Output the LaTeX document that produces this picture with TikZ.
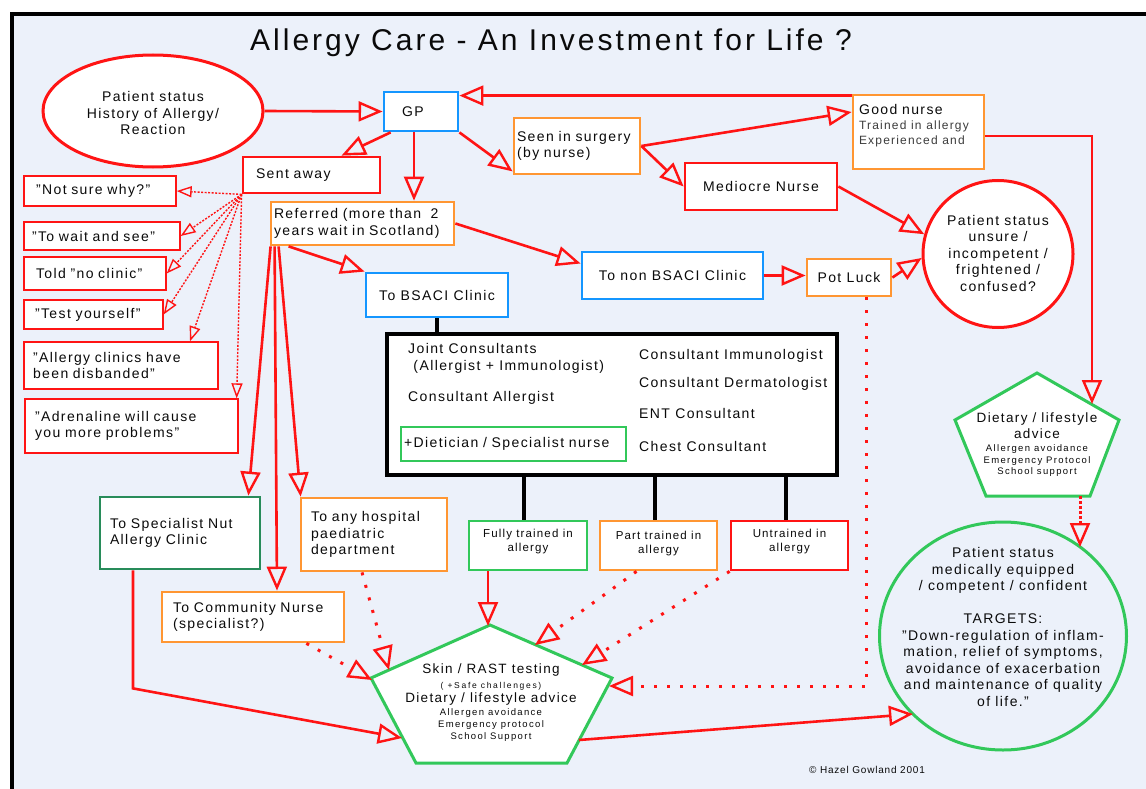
\documentclass[tikz,border=0pt]{standalone}
\usepackage{fontspec}
\setmainfont{Liberation Sans}[LetterSpace=10]
\usetikzlibrary{arrows.meta,shapes.geometric}
\definecolor{cred}{RGB}{255,20,20}
\definecolor{cblue}{RGB}{20,150,255}
\definecolor{corange}{RGB}{255,150,50}
\definecolor{cgreen}{RGB}{50,200,90}
\definecolor{cdkgreen}{RGB}{40,140,90}
\definecolor{cbg}{RGB}{236,241,250}
\definecolor{ctext}{RGB}{10,10,10}
\definecolor{cgrey}{RGB}{60,60,60}
\newcommand\fsz[2]{\fontsize{#1}{#2}\selectfont}
\newcommand\fsl[3]{\fontsize{#1}{#2}\selectfont\addfontfeature{LetterSpace=#3}}
\begin{document}
\begin{tikzpicture}[x=1pt,y=-1pt, every node/.style={text=ctext, font=\fsz{14}{16.5}}]
\tikzset{
  bx/.style={draw, fill=white, line width=2.8pt, inner sep=0pt},
  lbox/.style n args={3}{bx, minimum width=#1pt, minimum height=#2pt, text width=#3pt, align=left},
  cbox/.style n args={2}{bx, minimum width=#1pt, minimum height=#2pt, align=center},
  qbox/.style n args={3}{draw=cred, fill=white, line width=1.3pt, inner sep=0pt, minimum width=#1pt, minimum height=#2pt, text width=#3pt, align=left},
  arr/.style={draw=cred, line width=2.6pt, -{Triangle[open,length=24pt,width=20pt,line width=2.4pt]}},
  dots/.style={draw=cred, line width=3pt, dash pattern=on 3pt off 10pt, -{Triangle[open,length=24pt,width=20pt,line width=2.4pt]}},
  ddots/.style={draw=cred, line width=3pt, dash pattern=on 3pt off 2pt, -{Triangle[open,length=24pt,width=20pt,line width=2.4pt]}},
  sdots/.style={draw=cred, line width=1.4pt, dash pattern=on 2pt off 1.5pt, -{Triangle[open,length=15pt,width=11pt,line width=1.4pt]}},
  bl/.style={draw=black, line width=4pt},
  pent/.style={draw=cgreen, fill=white, line width=3pt},
  ell/.style={ellipse, line width=3pt, inner sep=0pt}
}
\useasboundingbox (0,0) rectangle (1146,789);
\fill[white] (0,0) rectangle (1146,789);
\begin{scope}
\clip (0,0) rectangle (1146,789);
\draw[line width=4pt, fill=cbg] (11.5,14.5) rectangle (1170,810);
\end{scope}

% title
\node[font={\fsl{30}{33}{10}}] (title) at (551,43) {Allergy Care - An Investment for Life ?};

% ellipses
\node[ell, draw=cred, fill=white, minimum width=220pt, minimum height=112pt] (pat1) at (153,111) {};
\node[align=center] (pat1t) at (153,113) {Patient status\\History of Allergy/\\Reaction};
\node[ell, draw=cred, fill=white, minimum width=150pt, minimum height=147pt] (unsure) at (998,254) {};
\node[align=center] (unsuret) at (998,253) {Patient status\\unsure /\\incompetent /\\frightened /\\confused?};
\node[ell, draw=cgreen, minimum width=247pt, minimum height=228pt] (goal) at (1003,636) {};
\node[align=center] (goalt) at (1003,627) {Patient status\\medically equipped\\/ competent / confident\\[16.5pt]TARGETS:\\"Down-regulation of inflam-\\mation, relief of symptoms,\\avoidance of exacerbation\\and maintenance of quality\\of life."};

% top boxes
\node[lbox={74}{39}{38}, draw=cblue] (gp) at (421,111.5) {GP};
\node[lbox={137}{36}{111}, draw=cred] (sent) at (311.5,175) {Sent away};
\node[lbox={183}{43}{177}, draw=corange] (ref) at (362.5,223.5) {Referred~(more~than\ \ 2\\years~wait~in~Scotland)};
\node[lbox={126}{56}{120}, draw=corange] (seen) at (577,146) {Seen~in~surgery\\(by nurse)};
\node[cbox={152}{47}, draw=cred] (med) at (761,186.5) {Mediocre Nurse};
\node[lbox={131}{74}{119}, draw=corange, font=\fsz{14}{15}] (good) at (918.5,132) {Good nurse\\\fsz{12}{15}\color{cgrey}Trained~in~allergy\\\fsz{12}{15}\color{cgrey}Experienced and\\\mbox{}};
\node[cbox={181}{47}, draw=cblue] (nonb) at (672.5,275.5) {To non BSACI Clinic};
\node[cbox={84}{37}, draw=corange] (pot) at (849,277.5) {Pot Luck};
\node[cbox={142}{44}, draw=cblue] (bsaci) at (437,295) {To BSACI Clinic};

% quote boxes
\node[qbox={152}{30}{128}] (q1) at (100,191) {"Not~sure~why?"};
\node[qbox={156}{28}{140}] (q2) at (102,236) {"To~wait~and~see"};
\node[qbox={142}{33}{118}] (q3) at (95,273.5) {Told~"no~clinic"};
\node[qbox={139}{29}{117}] (q4) at (93.5,314.5) {"Test~yourself"};
\node[qbox={194}{47}{176}] (q5) at (121,365.5) {"Allergy clinics have\\been disbanded"};
\node[qbox={213}{54}{193}] (q6) at (131.5,426) {"Adrenaline will cause\\you more problems"};

% consultants box
\node[bx, draw=black, line width=3.6pt, minimum width=450pt, minimum height=141pt] (big) at (612,404.5) {};
\node[anchor=west, inner sep=0pt, align=left] (bt1) at (408,358.5) {Joint Consultants\\\ (Allergist + Immunologist)};
\node[anchor=west, inner sep=0pt] (bt2) at (408,398) {Consultant Allergist};
\node[lbox={225}{34}{219}, draw=cgreen, line width=1.5pt] (dietn) at (513.5,444) {+Dietician~/~Specialist~nurse};
\node[anchor=west, inner sep=0pt] (bt3) at (639,356) {Consultant Immunologist};
\node[anchor=west, inner sep=0pt] (bt4) at (639,384) {Consultant Dermatologist};
\node[anchor=west, inner sep=0pt] (bt5) at (639,413) {ENT Consultant};
\node[anchor=west, inner sep=0pt] (bt6) at (639,446) {Chest Consultant};

% training boxes
\node[cbox={118}{49}, draw=cgreen, font=\fsz{11.5}{14}] (fully) at (528,545.5) {Fully trained in\\allergy\\[-4pt]\mbox{}};
\node[cbox={117}{49}, draw=corange, font=\fsz{11.5}{14}] (part) at (658.5,545.5) {Part trained in\\allergy\\[-7pt]\mbox{}};
\node[cbox={117}{49}, draw=cred, font=\fsz{11.5}{14}] (untr) at (789.5,545.5) {Untrained in\\allergy\\[-4pt]\mbox{}};

% lower boxes
\node[lbox={160}{72}{140}, draw=cdkgreen] (nut) at (180,533) {To Specialist Nut\\Allergy Clinic};
\node[lbox={146}{73}{126}, draw=corange] (hosp) at (374,534.5) {To any hospital\\paediatric\\department};
\node[lbox={182}{50}{160}, draw=corange] (comm) at (253,617) {To~Community~Nurse\\(specialist?)};

% pentagons
\draw[pent] (490,625) -- (612,678) -- (567,763) -- (416,763) -- (371,678) -- cycle;
\node[align=center, font={\fsz{13.5}{12}\lineskiplimit=-50pt}] (skin) at (491,703) {\fsl{13.5}{12}{10}Skin / RAST testing\\[2.5pt]\fsl{8.5}{12}{20}( +Safe challenges)\\[2pt]\fsl{13.5}{12}{10}Dietary / lifestyle advice\\[1.5pt]\fsl{9.5}{12}{14}Allergen avoidance\\\fsl{9.5}{12}{14}Emergency protocol\\\fsl{9.5}{12}{14}School Support};
\draw[pent] (1037,373) -- (1119,420) -- (1090,496) -- (986,496) -- (955,420) -- cycle;
\node[align=center, font={\fsz{13.5}{11}\lineskiplimit=-50pt}] (diet) at (1037,445) {\fsl{13.5}{11}{10}Dietary / lifestyle\\[5pt]\fsl{13.5}{11}{10}advice\\[2pt]\fsl{9.5}{11}{14}Allergen avoidance\\[1pt]\fsl{9.5}{11}{14}Emergency Protocol\\\fsl{9.5}{11}{14}School support};

\coordinate (skinTop) at (488,626);
\coordinate (skinP) at (535,645);
\coordinate (skinU) at (582,665);
\coordinate (skinR) at (609,686);
\coordinate (skinH) at (389,670);
\coordinate (skinC) at (372,680);
\coordinate (skinN) at (402,738);
\coordinate (skinOut) at (579,740);
\coordinate (goalIn) at (913,714);
\coordinate (dietIn) at (1092,404);
\coordinate (dietOut) at (1080,496);
\coordinate (goalTop) at (1080,547);

% copyright
\node[font={\fsl{10}{12}{8}}] (copy) at (867,770) {© Hazel Gowland 2001};

% black connectors
\draw[bl] (bsaci.south) -- (bsaci.south |- big.north);
\draw[bl] ([xshift=-4pt]fully.north |- big.south) -- ([xshift=-4pt]fully.north);
\draw[bl] ([xshift=-4pt]part.north |- big.south) -- ([xshift=-4pt]part.north);
\draw[bl] ([xshift=-4pt]untr.north |- big.south) -- ([xshift=-4pt]untr.north);

% red connectors
\draw[arr] (pat1.east) -- (gp.west);
\draw[arr] ([xshift=8pt]gp.south west) -- ([xshift=30pt]sent.north);
\draw[arr] ([xshift=-7pt]gp.south) -- ([xshift=-7pt]gp.south |- ref.north);
\draw[arr] (gp.south east) -- ([yshift=4pt]seen.south west);
\draw[arr] (seen.east) -- ([yshift=20pt]good.west);
\draw[arr] (seen.east) -- (med.west);
\draw[arr] ([yshift=-2pt]good.north west) -- ([yshift=-5pt]gp.north east);
\draw[arr] ([yshift=-4pt]good.east) -| (dietIn);
\draw[arr] (med.east) -- (unsure.165);
\draw[arr] (ref.east) -- ([yshift=12pt]nonb.west);
\draw[arr] (nonb.east) -- (nonb.east -| pot.west);
\draw[arr] (pot.east) -- (unsure.183);
\draw[arr] ([xshift=19pt]ref.south west) -- (bsaci.north west);
\draw[arr] ([xshift=1pt]ref.south west) -- ([xshift=-13pt]nut.north east);
\draw[arr] ([xshift=5pt]ref.south west) -- ([xshift=24pt]comm.north);
\draw[arr] ([xshift=9pt]ref.south west) -- ([xshift=1pt]hosp.north west);
\draw[arr] (fully.south -| skinTop) -- (skinTop);
\draw[arr] ([xshift=-47pt]nut.south) -- ++(0,118) -- (skinN);
\draw[arr] (skinOut) -- (goalIn);

% dotted connectors
\draw[dots] ([xshift=-22pt]part.south) -- (skinP);
\draw[dots] (untr.south west) -- (skinU);
\draw[dots] ([xshift=17pt]pot.south) |- (skinR);
\draw[dots] ([xshift=-12pt]hosp.south) -- (skinH);
\draw[dots] ([xshift=-39pt]comm.south east) -- (skinC);
\draw[ddots] (dietOut) -- (goalTop);

\draw[sdots] (sent.south west) -- (q1.east);
\draw[sdots] (sent.south west) -- (q2.east);
\draw[sdots] (sent.south west) -- (q3.east);
\draw[sdots] (sent.south west) -- (q4.east);
\draw[sdots] (sent.south west) -- ([xshift=69pt]q5.north);
\draw[sdots] (sent.south west) -- ([xshift=-2pt]q6.north east);
\end{tikzpicture}
\end{document}
